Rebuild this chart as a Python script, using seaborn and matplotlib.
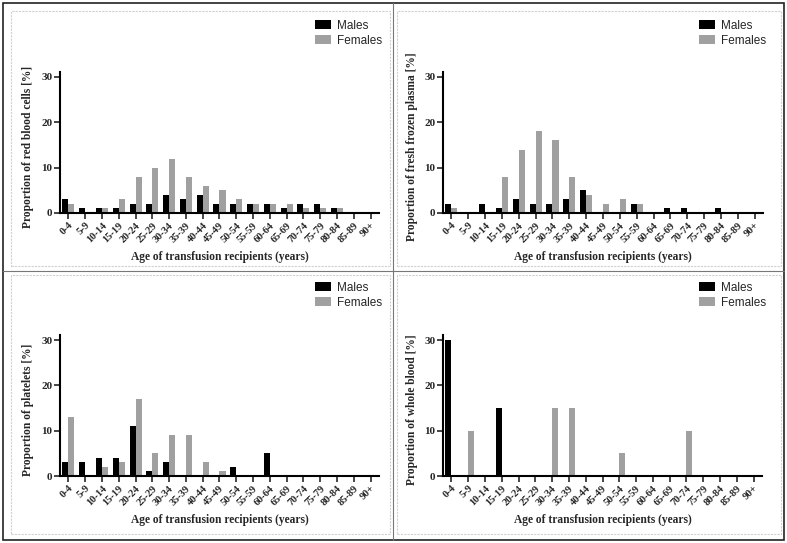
import matplotlib
matplotlib.use("Agg")
import matplotlib.pyplot as plt
import pandas as pd
import seaborn as sns
from matplotlib.lines import Line2D
from matplotlib.patches import Rectangle

sns.set_style("white")

age_groups = ["0-4", "5-9", "10-14", "15-19", "20-24", "25-29", "30-34", "35-39",
              "40-44", "45-49", "50-54", "55-59", "60-64", "65-69", "70-74",
              "75-79", "80-84", "85-89", "90+"]

rbc_males = [3, 1, 1, 1, 2, 2, 4, 3, 4, 2, 2, 2, 2, 1, 2, 2, 1, 0, 0]
rbc_females = [2, 0, 1, 3, 8, 10, 12, 8, 6, 5, 3, 2, 2, 2, 1, 1, 1, 0, 0]

ffp_males = [2, 0, 2, 1, 3, 2, 2, 3, 5, 0, 0, 2, 0, 1, 1, 0, 1, 0, 0]
ffp_females = [1, 0, 0, 8, 14, 18, 16, 8, 4, 2, 3, 2, 0, 0, 0, 0, 0, 0, 0]

plt_males = [3, 3, 4, 4, 11, 1, 3, 0, 0, 0, 2, 0, 5, 0, 0, 0, 0, 0, 0]
plt_females = [13, 0, 2, 3, 17, 5, 9, 9, 3, 1, 0, 0, 0, 0, 0, 0, 0, 0, 0]

wb_males = [30, 0, 0, 15, 0, 0, 0, 0, 0, 0, 0, 0, 0, 0, 0, 0, 0, 0, 0]
wb_females = [0, 10, 0, 0, 0, 0, 15, 15, 0, 0, 5, 0, 0, 0, 10, 0, 0, 0, 0]

y_labels = ["Proportion of red blood cells [%]", "Proportion of fresh frozen plasma [%]",
            "Proportion of platelets [%]", "Proportion of whole blood [%]"]
x_label = "Age of transfusion recipients (years)"

W, H = 787, 543
fig = plt.figure(figsize=(W / 100, H / 100), dpi=100)

serif = ["Liberation Serif", "DejaVu Serif"]
sans = ["Liberation Sans", "DejaVu Sans"]
palette = {"Males": "#000000", "Females": "#a0a0a0"}

# axes boxes in pixels: left, right, y at 0
boxes = [(60, 379, 213), (443, 763, 213), (60, 379, 476), (443, 762, 476)]
legend_pos = [(304, 9), (688, 9), (304, 271), (688, 271)]
series = [(rbc_males, rbc_females), (ffp_males, ffp_females),
          (plt_males, plt_females), (wb_males, wb_females)]

px_per_unit = 136 / 30
for (left, right, y0), (lx, ly), (m, f), ylab in zip(boxes, legend_pos, series, y_labels):
    h = px_per_unit * 31
    ax = fig.add_axes([left / W, 1 - y0 / H, (right - left) / W, h / H])
    df = pd.DataFrame({
        "age": age_groups * 2,
        "value": m + f,
        "sex": ["Males"] * len(age_groups) + ["Females"] * len(age_groups),
    })
    sns.barplot(data=df, x="age", y="value", hue="sex", palette=palette,
                width=0.72, gap=0, saturation=1, ax=ax, order=age_groups,
                edgecolor="none", linewidth=0)
    ax.set_xlim(-0.5, 18.5)
    ax.set_ylim(0, 31)
    ax.set_yticks([0, 10, 20, 30])
    for s in ["top", "right"]:
        ax.spines[s].set_visible(False)
    for s in ["left", "bottom"]:
        ax.spines[s].set_linewidth(1.5)
        ax.spines[s].set_color("black")
    ax.tick_params(axis="both", direction="out", length=4, width=1.2, pad=1.5,
                   bottom=True, left=True)
    ax.set_xticks(range(len(age_groups)))
    ax.set_xticklabels(age_groups, rotation=45, ha="right", rotation_mode="anchor",
                       fontsize=7.5, fontweight="bold", family=serif)
    for t in ax.get_yticklabels():
        t.set_fontsize(8)
        t.set_fontweight("bold")
        t.set_family(serif)
    ax.set_ylabel(ylab, fontsize=8.3, fontweight="bold", family=serif)
    ax.yaxis.set_label_coords(-25.5 / (right - left), 0.47)
    ax.set_xlabel(x_label, fontsize=8.3, fontweight="bold", family=serif)
    ax.xaxis.set_label_coords(0.5, -38 / h)
    ax.legend(loc="upper left", bbox_to_anchor=(lx / W, 1 - ly / H),
              bbox_transform=fig.transFigure, frameon=False,
              prop={"family": sans, "size": 8.5}, handlelength=1.4,
              handleheight=0.75, handletextpad=0.5, labelspacing=0.25)

# panel frames
fig.add_artist(Rectangle((3 / W, 3 / H), (W - 6) / W, (H - 6) / H,
                         transform=fig.transFigure, fill=False,
                         edgecolor="#222222", linewidth=1.2))
fig.add_artist(Line2D([393 / W, 393 / W], [3 / H, 1 - 3 / H],
                      transform=fig.transFigure, color="#777777", linewidth=0.8))
fig.add_artist(Line2D([3 / W, 1 - 3 / W], [1 - 271 / H, 1 - 271 / H],
                      transform=fig.transFigure, color="#777777", linewidth=0.8))
for x0, y0p, x1, y1p in [(11, 11, 390, 266), (397, 11, 781, 266),
                         (11, 275, 390, 534), (397, 275, 781, 534)]:
    fig.add_artist(Rectangle((x0 / W, 1 - y1p / H), (x1 - x0) / W, (y1p - y0p) / H,
                             transform=fig.transFigure, fill=False,
                             edgecolor="#d0d0d0", linewidth=0.8, linestyle=(0, (2, 1))))

fig.savefig("out.png", dpi=100)
